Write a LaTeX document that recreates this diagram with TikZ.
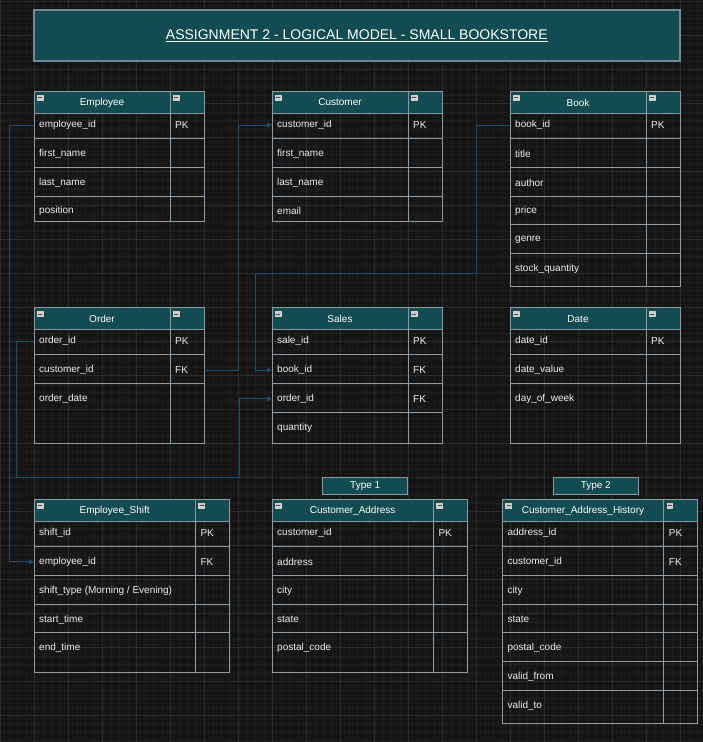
\documentclass[tikz,border=0pt]{standalone}
\usepackage{fontspec}
\setmainfont{Liberation Sans}
\usetikzlibrary{arrows.meta,calc}
\definecolor{bgc}{HTML}{161616}
\definecolor{gridminor}{HTML}{1E1E1E}
\definecolor{gridmajor}{HTML}{2A2A2A}
\definecolor{hdrteal}{HTML}{124B50}
\definecolor{tborder}{HTML}{8E9AA1}
\definecolor{titleborder}{HTML}{6F8A94}
\definecolor{conncol}{HTML}{1E4B69}
\definecolor{txtcol}{HTML}{EDEDED}
\definecolor{iconcol}{HTML}{CFCFCF}
\tikzset{
  tb/.style={draw=tborder, line width=0.9pt},
  hdr/.style={text=white, inner sep=0pt, font=\fontsize{10}{12}\selectfont},
  fld/.style={text=txtcol, inner sep=0pt, anchor=west, font=\fontsize{10}{12}\selectfont},
  link/.style={draw=conncol, line width=0.9pt, -{Triangle[length=5pt,width=5pt]}},
  typebox/.style={fill=hdrteal, draw=tborder, line width=0.9pt, text=white,
    minimum width=85pt, minimum height=17pt, inner sep=0pt, font=\fontsize{10}{12}\selectfont},
}
% #1 id, #2 title, #3 x0, #4 xd, #5 x1, #6 top, #7 bottom, #8 rows
\newcommand\ertable[8]{%
  \fill[hdrteal] (#3,#6) rectangle (#5,#6+22);
  \foreach \f/\k [count=\i from 0] in {#8} {%
    \pgfmathsetmacro\ty{#6+22+12+28.8*\i}%
    \node[fld] (#1-\i-t) at (#3+5,\ty) {\f};
    \node[fld] (#1-\i-k) at (#4+5,\ty) {\k};
    \coordinate (#1-\i-w) at (#3,\ty);
    \coordinate (#1-\i-e) at (#5,\ty);
    \ifnum\i>0 \draw[tb] (#3,\ty-15.3) -- (#5,\ty-15.3);\fi
  }
  \draw[tb] (#3,#6+22) -- (#5,#6+22);
  \draw[tb] (#4,#6) -- (#4,#7);
  \draw[tb] (#3,#6) rectangle (#5,#7);
  \node[hdr] (#1-h) at ({(#3+#4)/2},#6+11.5) {#2};
  \fill[iconcol] (#3+3,#6+4) rectangle ++(6.5,5.5);
  \draw[black!70, line width=0.6pt] (#3+4.2,#6+6.75) -- ++(4.1,0);
  \fill[iconcol] (#4+3,#6+4) rectangle ++(6.5,5.5);
  \draw[black!70, line width=0.6pt] (#4+4.2,#6+6.75) -- ++(4.1,0);
}
\begin{document}
\begin{tikzpicture}[x=1pt,y=-1pt]
\useasboundingbox (0,0) rectangle (703,742);
\fill[bgc] (0,0) rectangle (703,742);
\foreach \gx in {0.7,9.2,...,703} \draw[gridminor, line width=0.5pt] (\gx,0) -- (\gx,742);
\foreach \gy in {1.3,9.8,...,742} \draw[gridminor, line width=0.5pt] (0,\gy) -- (703,\gy);
\foreach \gx in {0.7,34.7,...,703} \draw[gridmajor, line width=0.6pt] (\gx,0) -- (\gx,742);
\foreach \gy in {1.3,35.3,...,742} \draw[gridmajor, line width=0.6pt] (0,\gy) -- (703,\gy);

% title
\node[fill=hdrteal, draw=titleborder, line width=1.6pt, minimum width=646pt, minimum height=51pt,
  inner sep=0pt, text=white, font=\fontsize{14}{16}\selectfont] (title) at (356.8,35.5)
  {\underline{ASSIGNMENT 2 - LOGICAL MODEL - SMALL BOOKSTORE}};

\ertable{emp}{Employee}{34}{170}{204}{91}{221.7}{employee\_id/PK, first\_name/{}, last\_name/{}, position/{}}
\ertable{cus}{Customer}{272}{408}{442}{91}{221.7}{customer\_id/PK, first\_name/{}, last\_name/{}, email/{}}
\ertable{book}{Book}{510}{646}{680}{91}{286}{book\_id/PK, title/{}, author/{}, price/{}, genre/{}, stock\_quantity/{}}
\ertable{ord}{Order}{34}{170}{204}{307.3}{443.3}{order\_id/PK, customer\_id/FK, order\_date/{}}
\ertable{sal}{Sales}{272}{408}{442}{307.3}{443.3}{sale\_id/PK, book\_id/FK, order\_id/FK, quantity/{}}
\ertable{date}{Date}{510}{646}{680}{307.3}{443.3}{date\_id/PK, date\_value/{}, day\_of\_week/{}}
\ertable{shift}{Employee\_Shift}{34}{195.3}{229.3}{499}{672.7}{shift\_id/PK, employee\_id/FK, {shift\_type (Morning / Evening)}/{}, start\_time/{}, end\_time/{}}
\ertable{addr}{Customer\_Address}{272}{433.3}{467.3}{499}{672.7}{customer\_id/PK, address/{}, city/{}, state/{}, postal\_code/{}}
\ertable{hist}{Customer\_Address\_History}{502.3}{663.7}{697.3}{499}{723.3}{address\_id/PK, customer\_id/FK, city/{}, state/{}, postal\_code/{}, valid\_from/{}, valid\_to/{}}

\node[typebox] (type1) at (365.2,485.8) {Type 1};
\node[typebox] (type2) at (595.8,485.8) {Type 2};

% connectors
\draw[link] (emp-0-w) -| ($(shift-1-w)+(-24.7,0)$) -- (shift-1-w);
\draw[link] (ord-0-w) -| ($(ord-0-w)+(-17.3,136)$) -| ($(sal-2-w)+(-33,0)$) -- (sal-2-w);
\draw[link] (ord-1-e) -- ++(34.5,0) |- (cus-0-w);
\draw[link] (book-0-w) -| ($(book-0-w)+(-33.3,148.3)$) -| ($(sal-1-w)+(-17,0)$) -- (sal-1-w);
\end{tikzpicture}
\end{document}
